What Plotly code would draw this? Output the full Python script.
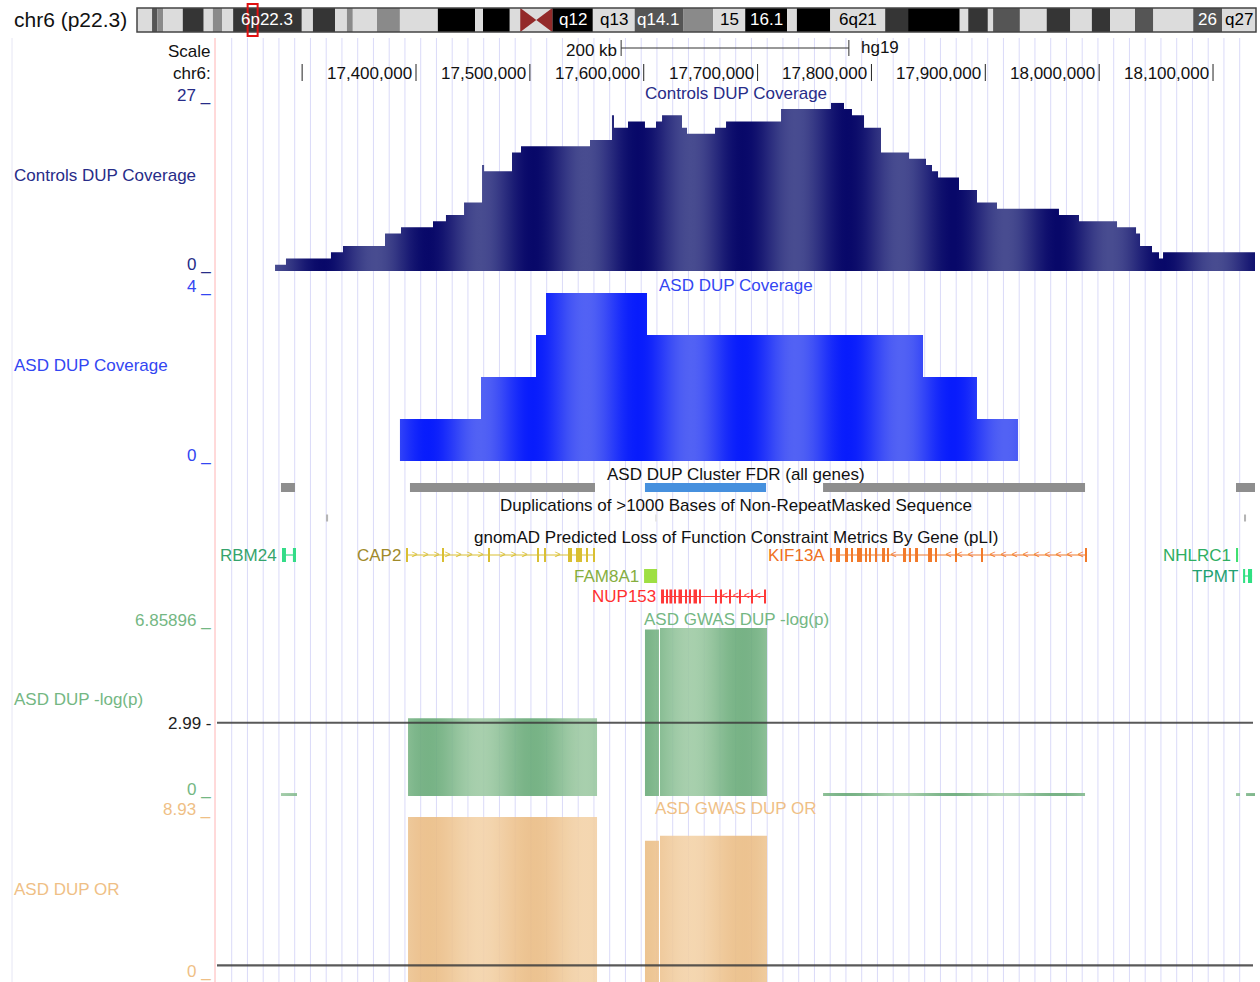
import numpy as np
import plotly.graph_objects as go

# ============================ DATA ============================
chrom_title = "chr6 (p22.3)"
chrom_length_mb = 171.1
band_starts_mb = [0.0, 2.3, 3.1, 4.0, 7.0, 10.2, 11.6, 13.0, 14.7, 25.2, 26.9, 30.3, 32.1, 33.0, 36.7,
                  40.2, 46.0, 51.7, 52.9, 57.0, 58.6, 63.5, 69.7, 76.1, 83.5, 88.1, 93.0, 99.4, 100.9,
                  106.0, 114.4, 117.9, 125.8, 127.1, 130.1, 130.9, 135.0, 139.1, 142.7, 146.0, 148.8,
                  152.6, 155.4, 161.5, 165.9]
band_stains = ["gneg", "gpos50", "gpos25", "gneg", "gpos75", "gneg", "gpos25", "gneg", "gpos75", "gneg",
               "gpos75", "gneg", "gpos25", "gneg", "gpos25", "gneg", "gpos100", "gneg", "gpos100", "gneg",
               "acen", "gpos100", "gneg", "gpos50", "gpos25", "gneg", "gpos100", "gneg", "gpos100", "gneg",
               "gpos75", "gpos100", "gneg", "gpos75", "gneg", "gpos50", "gneg", "gpos75", "gneg", "gpos75",
               "gneg", "gpos50", "gneg", "gpos50", "gneg"]
band_labels = ["", "", "", "", "", "", "", "", "6p22.3", "", "", "", "", "", "", "", "", "", "", "",
               "", "q12", "q13", "q14.1", "", "15", "16.1", "", "", "6q21", "", "", "", "", "", "", "",
               "", "", "", "", "", "", "26", "q27"]

tick_positions = [17_300_000, 17_400_000, 17_500_000, 17_600_000, 17_700_000,
                  17_800_000, 17_900_000, 18_000_000, 18_100_000]
scale_bar_bp = 200_000
assembly = "hg19"

controls_starts = [17276200, 17285800, 17325300, 17335900, 17372800, 17386800, 17414900, 17426300,
                   17442200, 17458000, 17459800, 17484300, 17492200, 17552800, 17572100, 17573900,
                   17586200, 17601100, 17610800, 17616100, 17633600, 17638000, 17662600, 17672300,
                   17720600, 17764500, 17775900, 17782900, 17793500, 17808400, 17833000, 17847900,
                   17853200, 17858500, 17876900, 17892700, 17910300, 17964700, 17982300, 18015700,
                   18032400, 18035900, 18046400, 18052600, 18056100]
controls_values = [1, 2, 3, 4, 6, 7, 8, 9, 11, 17, 16, 19, 20, 21, 25, 23, 24, 23, 24, 25, 23, 22, 23,
                   24, 26, 27, 26, 25, 23, 19, 18, 17, 16, 15, 13, 11, 10, 9, 8, 7, 6, 4, 3, 2, 3]
controls_end = 18137800
controls_max = 27

asd_starts = [17385900, 17457100, 17505400, 17514200, 17602900, 17845300, 17892700]
asd_values = [1, 2, 3, 4, 3, 2, 1]
asd_end = 17928700
asd_max = 4

cluster_starts = [17281400, 17394700, 17601100, 17757500, 18120200]
cluster_ends = [17293700, 17557200, 17707400, 17987600, 18140000]
cluster_significant = [False, False, True, False, False]

dup_starts = [17321000, 17610300, 18127500]
dup_ends = [17322800, 17611300, 18129000]
dup_identity = [0.95, 0.90, 0.95]

gene_names = ["RBM24", "CAP2", "FAM8A1", "NUP153", "KIF13A", "NHLRC1", "TPMT"]
gene_starts = [17282300, 17391200, 17600300, 17615200, 17763600, 18120200, 18126400]
gene_ends = [17294600, 17557200, 17611700, 17707400, 17989300, 18122000, 18134300]
gene_strands = ["+", "+", "+", "-", "-", "-", "-"]
gene_rows = [0, 0, 1, 2, 0, 0, 1]
gene_exons = [
    [(17282300, 17285800), (17291900, 17294600)],
    [(17391200, 17393000), (17423000, 17424500), (17463400, 17464900), (17506500, 17508000),
     (17512600, 17514100), (17533500, 17537000), (17540500, 17545800), (17549500, 17551000),
     (17555600, 17557200)],
    [(17600300, 17611700)],
    [(17615200, 17617800), (17619900, 17621000), (17622600, 17625000), (17627000, 17628100),
     (17630500, 17633600), (17636600, 17637700), (17640200, 17641300), (17643700, 17646800),
     (17648900, 17650000), (17663000, 17664100), (17667400, 17668500), (17675300, 17676400),
     (17684100, 17685200), (17694600, 17695700), (17705900, 17707400)],
    [(17763600, 17765400), (17768900, 17772400), (17776800, 17779400), (17782400, 17783500),
     (17787300, 17791700), (17794700, 17795800), (17798200, 17799300), (17803500, 17804600),
     (17809300, 17811900), (17814100, 17815200), (17827700, 17830400), (17833400, 17834500),
     (17838300, 17840900), (17849700, 17853200), (17856200, 17857300), (17873800, 17874900),
     (17896600, 17897700), (17987600, 17989300)],
    [(18120200, 18122000)],
    [(18126400, 18128200), (18130700, 18134300)],
]

logp_starts = [17281400, 17393000, 17601100, 17614300, 17757500, 18120200, 18129000]
logp_ends = [17295500, 17559000, 17613400, 17708300, 17987600, 18123700, 18140000]
logp_values = [0.12, 3.17, 6.80, 6.85896, 0.12, 0.12, 0.12]
logp_max = 6.85896
logp_threshold = 2.99

or_starts = [17393000, 17601100, 17614300]
or_ends = [17559000, 17613400, 17708300]
or_values = [8.93, 7.66, 7.93]
or_max = 8.93
or_line = 1.0

# ============================ LAYOUT HELPERS ============================
W, H = 1260, 982
FONT = "Liberation Sans, Arial, Helvetica, sans-serif"
PX_PER_BP = 113.86 / 100_000
REF_PX, REF_BP = 416.0, 17_400_000
DATA_L, DATA_R = 215.0, 1255.0


def bp_at(px):
    return REF_BP + (px - REF_PX) / PX_PER_BP


def px_of(bp):
    return REF_PX + (bp - REF_BP) * PX_PER_BP


XR0, XR1 = bp_at(DATA_L), bp_at(DATA_R)


def fx(px):
    return px / W


def fy(py):
    return 1 - py / H


def value_axis(py_zero, py_top, vmax, py_dom_bottom=None):
    if py_dom_bottom is None:
        py_dom_bottom = py_zero
    v = lambda py: vmax * (py_zero - py) / (py_zero - py_top)
    return dict(domain=[fy(py_dom_bottom), fy(py_top)], range=[v(py_dom_bottom), v(py_top)],
                visible=False, anchor="x", fixedrange=True)


STRIPE_DARK_PX, STRIPE_PERIOD = 323.0, 105.0


def stripes(dark, light, alpha=1.0, n=220):
    out = []
    for i in range(n):
        t = i / (n - 1)
        px = DATA_L + t * (DATA_R - DATA_L)
        w = 0.5 * (1 + np.cos(2 * np.pi * (px - STRIPE_DARK_PX) / STRIPE_PERIOD))
        c = [round(light[j] + (dark[j] - light[j]) * w) for j in range(3)]
        out.append([t, f"rgba({c[0]},{c[1]},{c[2]},{alpha})"])
    return out


def grad(dark, light, alpha=1.0):
    return dict(type="horizontal", colorscale=stripes(dark, light, alpha), start=XR0, stop=XR1)


NAVY = "#272c88"
BLUE = "#3346f2"
GREEN = "#74b783"
ORANGE = "#efbf86"

fig = go.Figure()

# ---------- Controls DUP coverage ----------
fig.add_trace(go.Scatter(
    x=controls_starts + [controls_end], y=controls_values + [controls_values[-1]],
    mode="lines", line=dict(width=0, shape="hv"), fill="tozeroy",
    fillgradient=grad((8, 8, 105), (72, 76, 144)), xaxis="x", yaxis="y", hoverinfo="skip"))

# ---------- ASD DUP coverage ----------
fig.add_trace(go.Scatter(
    x=asd_starts + [asd_end], y=asd_values + [asd_values[-1]],
    mode="lines", line=dict(width=0, shape="hv"), fill="tozeroy",
    fillgradient=grad((8, 28, 252), (82, 98, 244)), xaxis="x", yaxis="y2", hoverinfo="skip"))

# ---------- GWAS -log(p) ----------
for s, e, v in zip(logp_starts, logp_ends, logp_values):
    fig.add_trace(go.Scatter(
        x=[s, e], y=[v, v], mode="lines", line=dict(width=0), fill="tozeroy",
        fillgradient=grad((104, 170, 120), (158, 202, 164), 0.9), xaxis="x", yaxis="y4",
        hoverinfo="skip"))

# ---------- GWAS OR ----------
for s, e, v in zip(or_starts, or_ends, or_values):
    fig.add_trace(go.Scatter(
        x=[s, e], y=[v, v], mode="lines", line=dict(width=0), fill="tozeroy",
        fillgradient=grad((234, 188, 132), (243, 210, 168), 0.9), xaxis="x", yaxis="y5",
        hoverinfo="skip"))

# ---------- feature tracks (pixel-row axis y3) ----------
ROW_CLUSTER, ROW_DUP = 487.5, 518.0
GENE_ROW_PY = [555.0, 576.0, 596.5]

fig.add_trace(go.Bar(
    orientation="h", base=cluster_starts,
    x=[e - s for s, e in zip(cluster_starts, cluster_ends)],
    y=[ROW_CLUSTER] * len(cluster_starts), width=9,
    marker=dict(color=["#4690de" if sig else "#8e8e8e" for sig in cluster_significant], line=dict(width=0)),
    xaxis="x", yaxis="y3", hoverinfo="skip"))

fig.add_trace(go.Bar(
    orientation="h", base=dup_starts, x=[e - s for s, e in zip(dup_starts, dup_ends)],
    y=[ROW_DUP] * len(dup_starts), width=7,
    marker=dict(color=["#b4b4b4" if d > 0.92 else "#e6e6e6" for d in dup_identity], line=dict(width=0)),
    xaxis="x", yaxis="y3", hoverinfo="skip"))

gene_style = {
    "RBM24": ("#35a36c", "#34dc88"),
    "CAP2": ("#a08a2a", "#d9bf32"),
    "FAM8A1": ("#86ae3e", "#9edf44"),
    "NUP153": ("#ff3030", "#ff3838"),
    "KIF13A": ("#ef7020", "#f27a2a"),
    "NHLRC1": ("#2fae62", "#3fe070"),
    "TPMT": ("#22a172", "#2fe082"),
}

annotations = []
for name, gs, ge, strand, row, exons in zip(gene_names, gene_starts, gene_ends, gene_strands,
                                           gene_rows, gene_exons):
    tcol, gcol = gene_style[name]
    ry = GENE_ROW_PY[row]
    fig.add_trace(go.Scatter(x=[gs, ge], y=[ry, ry], mode="lines", line=dict(color=gcol, width=1.2),
                             xaxis="x", yaxis="y3", hoverinfo="skip"))
    fig.add_trace(go.Bar(orientation="h", base=[s for s, _ in exons], x=[e - s for s, e in exons],
                         y=[ry] * len(exons), width=14, marker=dict(color=gcol, line=dict(width=0)),
                         xaxis="x", yaxis="y3", hoverinfo="skip"))
    # chevrons along introns
    step = 11.0 / PX_PER_BP
    pad = 3.0 / PX_PER_BP
    cx = [c for c in np.arange(gs + step * 0.8, ge - pad, step)
          if all(not (s - pad <= c <= e + pad) for s, e in exons)]
    if cx:
        fig.add_trace(go.Scatter(x=cx, y=[ry] * len(cx), mode="text",
                                 text=[">" if strand == "+" else "<"] * len(cx),
                                 textposition="middle center",
                                 textfont=dict(family=FONT, size=10, color=gcol),
                                 xaxis="x", yaxis="y3", hoverinfo="skip"))
    annotations.append(dict(x=gs, y=fy(ry), xref="x", yref="paper", xanchor="right", yanchor="middle",
                            xshift=-3, text=name, showarrow=False,
                            font=dict(family=FONT, size=17, color=tcol)))

# ---------- ideogram ----------
stain_color = {"gneg": "#dcdcdc", "gpos25": "#8a8a8a", "gpos50": "#555555", "gpos75": "#353535",
               "gpos100": "#000000", "acen": "#dcdcdc"}
band_ends_mb = band_starts_mb[1:] + [chrom_length_mb]
fig.add_trace(go.Bar(
    orientation="h", base=band_starts_mb, x=[e - s for s, e in zip(band_starts_mb, band_ends_mb)],
    y=[0.5] * len(band_starts_mb), width=1.0,
    marker=dict(color=[stain_color[s] for s in band_stains], line=dict(width=0)),
    xaxis="x2", yaxis="y6", hoverinfo="skip"))

shapes = []
# centromere bow-tie
for s, e, st in zip(band_starts_mb, band_ends_mb, band_stains):
    if st == "acen":
        m = (s + e) / 2
        shapes.append(dict(type="path", xref="x2", yref="y6", path=f"M {s},0 L {m},0.5 L {s},1 Z",
                           fillcolor="#932a2a", line=dict(width=0)))
        shapes.append(dict(type="path", xref="x2", yref="y6", path=f"M {e},0 L {m},0.5 L {e},1 Z",
                           fillcolor="#932a2a", line=dict(width=0)))
# band labels
for s, e, st, lab in zip(band_starts_mb, band_ends_mb, band_stains, band_labels):
    if lab:
        annotations.append(dict(x=(s + e) / 2, y=fy(20), xref="x2", yref="paper", text=lab,
                                showarrow=False, xanchor="center", yanchor="middle",
                                font=dict(family=FONT, size=17,
                                          color="#ffffff" if st in ("gpos50", "gpos75", "gpos100") else "#000000")))
shapes.append(dict(type="rect", xref="x2 domain", yref="y6 domain", x0=0, x1=1, y0=0, y1=1,
                   line=dict(color="#444444", width=1.5), fillcolor="rgba(0,0,0,0)"))
# current view box on the ideogram
view_mid_mb = (XR0 + XR1) / 2 / 1e6
half_w = 5.0 * chrom_length_mb / (1256 - 137)
shapes.append(dict(type="rect", xref="x2", yref="paper", x0=view_mid_mb - half_w, x1=view_mid_mb + half_w,
                   y0=fy(36), y1=fy(4), line=dict(color="#e01010", width=2), fillcolor="rgba(0,0,0,0)"))

# ---------- background guides ----------
k = 0
while True:
    gx = 231.7 + 15.75 * k
    if gx > 1252:
        break
    shapes.append(dict(type="line", xref="paper", yref="paper", x0=fx(gx), x1=fx(gx), y0=fy(38), y1=0,
                       line=dict(color="#dadaf8", width=1), layer="below"))
    k += 1
shapes.append(dict(type="line", xref="paper", yref="paper", x0=fx(12), x1=fx(12), y0=fy(38), y1=0,
                   line=dict(color="#e6e6f4", width=1), layer="below"))
shapes.append(dict(type="line", xref="paper", yref="paper", x0=fx(215), x1=fx(215), y0=fy(38), y1=0,
                   line=dict(color="#ffb4b4", width=1), layer="below"))

# ---------- threshold lines ----------
shapes.append(dict(type="line", xref="paper", yref="y4", x0=fx(217), x1=fx(1253), y0=logp_threshold,
                   y1=logp_threshold, line=dict(color="rgba(60,60,60,0.85)", width=2.2)))
shapes.append(dict(type="line", xref="paper", yref="y5", x0=fx(217), x1=fx(1253), y0=or_line,
                   y1=or_line, line=dict(color="rgba(60,60,60,0.85)", width=2.2)))

# ---------- base position ruler ----------
for t in tick_positions:
    shapes.append(dict(type="line", xref="x", yref="paper", x0=t, x1=t, y0=fy(81), y1=fy(64),
                       line=dict(color="#222222", width=1)))
    if px_of(t) - 88 > DATA_L:
        annotations.append(dict(x=t, y=fy(74), xref="x", yref="paper", xanchor="right", yanchor="middle",
                                xshift=-2, text=f"{t:,}", showarrow=False,
                                font=dict(family=FONT, size=17, color="#111111")))
mid_bp = (XR0 + XR1) / 2
sb0, sb1 = mid_bp - scale_bar_bp / 2, mid_bp + scale_bar_bp / 2
shapes.append(dict(type="line", xref="x", yref="paper", x0=sb0, x1=sb1, y0=fy(48), y1=fy(48),
                   line=dict(color="#333333", width=1)))
for sx in (sb0, sb1):
    shapes.append(dict(type="line", xref="x", yref="paper", x0=sx, x1=sx, y0=fy(56), y1=fy(40),
                       line=dict(color="#333333", width=1)))
annotations.append(dict(x=sb0, y=fy(50), xref="x", yref="paper", xanchor="right", yanchor="middle",
                        xshift=-2, text=f"{scale_bar_bp // 1000} kb", showarrow=False,
                        font=dict(family=FONT, size=17, color="#111111")))
annotations.append(dict(x=sb1, y=fy(47), xref="x", yref="paper", xanchor="left", yanchor="middle",
                        xshift=10, text=assembly, showarrow=False,
                        font=dict(family=FONT, size=17, color="#111111")))


def label(px, py, text, color, anchor="left", size=17):
    annotations.append(dict(x=fx(px), y=fy(py), xref="paper", yref="paper", xanchor=anchor,
                            yanchor="middle", text=text, showarrow=False,
                            font=dict(family=FONT, size=size, color=color)))


label(12, 20, chrom_title, "#111111", size=21)
label(213, 52, "Scale", "#111111", "right")
label(213, 74, "chr6:", "#111111", "right")

# track titles (center)
CX = (DATA_L + DATA_R) / 2 + 1
label(CX, 94, "Controls DUP Coverage", NAVY, "center")
label(CX, 285, "ASD DUP Coverage", BLUE, "center")
label(CX, 475, "ASD DUP Cluster FDR (all genes)", "#111111", "center")
label(CX, 506, "Duplications of >1000 Bases of Non-RepeatMasked Sequence", "#111111", "center")
label(CX, 537, "gnomAD Predicted Loss of Function Constraint Metrics By Gene (pLI)", "#111111", "center")
label(CX, 619, "ASD GWAS DUP -log(p)", GREEN, "center")
label(CX, 808, "ASD GWAS DUP OR", ORANGE, "center")

# left track labels
label(12, 175, "Controls DUP Coverage", NAVY)
label(12, 365, "ASD DUP Coverage", BLUE)
label(12, 699, "ASD DUP -log(p)", GREEN)
label(12, 889, "ASD DUP OR", ORANGE)

# vertical scale labels
label(213, 95, f"{controls_max} _", NAVY, "right")
label(213, 264, "0 _", NAVY, "right")
label(213, 286, f"{asd_max} _", BLUE, "right")
label(213, 455, "0 _", BLUE, "right")
label(213, 620, f"{logp_max} _", GREEN, "right")
label(213, 723, f"{logp_threshold} -", "#222222", "right")
label(213, 789, "0 _", GREEN, "right")
label(213, 809, f"{or_max} _", ORANGE, "right")
label(213, 971, "0 _", ORANGE, "right")

fig.update_layout(
    width=W, height=H, margin=dict(l=0, r=0, t=0, b=0), autosize=False,
    paper_bgcolor="white", plot_bgcolor="rgba(0,0,0,0)", showlegend=False, barmode="overlay",
    xaxis=dict(domain=[fx(DATA_L), fx(DATA_R)], range=[XR0, XR1], visible=False, anchor="y",
               fixedrange=True),
    xaxis2=dict(domain=[fx(137), fx(1256)], range=[0, chrom_length_mb], visible=False, anchor="y6",
                fixedrange=True),
    yaxis=value_axis(271, 102.7, controls_max),
    yaxis2=value_axis(461, 293, asd_max),
    yaxis3=dict(domain=[fy(606), fy(466)], range=[606, 466], visible=False, anchor="x", fixedrange=True),
    yaxis4=value_axis(796, 628, logp_max),
    yaxis5=value_axis(984, 817, or_max, py_dom_bottom=982),
    yaxis6=dict(domain=[fy(32), fy(8)], range=[0, 1], visible=False, anchor="x2", fixedrange=True),
    annotations=annotations, shapes=shapes, hovermode=False,
)

fig.write_html("out.html")
